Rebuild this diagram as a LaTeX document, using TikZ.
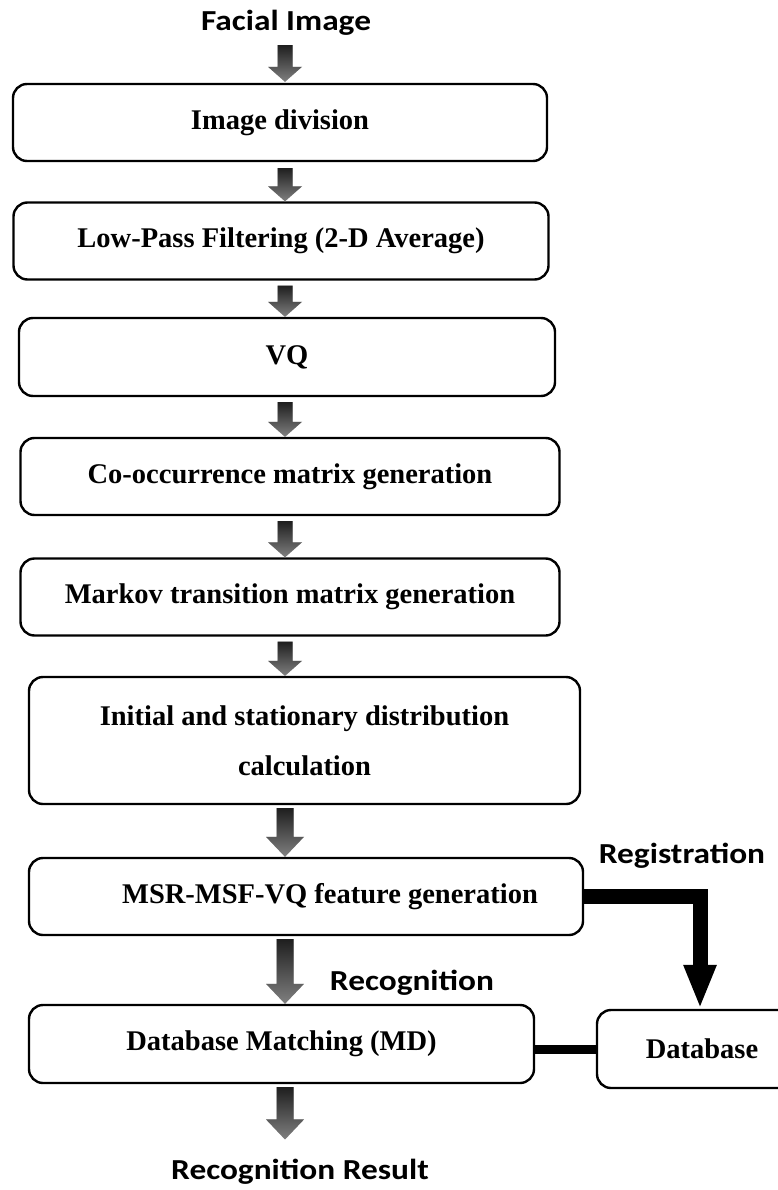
\documentclass[tikz,border=0pt]{standalone}
\usepackage{fontspec}
\setmainfont{Liberation Serif}
\newfontfamily\lblfont[FakeStretch=1.15]{Carlito}
\usetikzlibrary{calc,arrows.meta}
\tikzset{
  box/.style={draw, line width=2.4pt, rounded corners=14pt, align=center,
    font=\fontsize{28.5}{34}\selectfont\bfseries, inner sep=0pt},
  lbl/.style={font=\lblfont\fontsize{29}{34}\selectfont\bfseries, inner sep=0pt, anchor=base},
  ashadow/.style={fill=black!28, xshift=2.5pt, yshift=-1.5pt},
  abody/.style={top color=black!88, bottom color=black!50, draw=none},
  regline/.style={line width=15pt, -{Triangle[width=30pt,length=44pt]}},
  dbline/.style={line width=9pt},
}
% #1 from node, #2 to node, #3 start gap, #4 end gap, #5 half shaft, #6 half head, #7 head length
\newcommand{\barrow}[7]{%
  \foreach \sty in {ashadow,abody}{
    \path[\sty] let \p1=(col), \p2=(#1.south), \p3=(#2.north) in
      (\x1-#5,\y2-#3) -- (\x1+#5,\y2-#3) -- (\x1+#5,\y3+#4+#7) -- (\x1+#6,\y3+#4+#7)
      -- (\x1,\y3+#4) -- (\x1-#6,\y3+#4+#7) -- (\x1-#5,\y3+#4+#7) -- cycle;
  }}
\begin{document}
\begin{tikzpicture}[x=1pt,y=-1pt]
\fill[white] (0,0) rectangle (777,1190);
\useasboundingbox (0,0) rectangle (777,1190);
\coordinate (col) at (285,0);

\node[lbl] (fi) at (286,31) {Facial Image};
\node[box, minimum width=534pt, minimum height=77pt] (b1) at (280,122.5) {Image division};
\node[box, minimum width=535pt, minimum height=77pt] (b2) at (281,241) {Low-Pass Filtering (2-D Average)};
\node[box, minimum width=536pt, minimum height=78pt] (b3) at (287,357) {VQ};
\node[box, minimum width=539pt, minimum height=77pt] (b4) at (290,476.5) {Co-occurrence matrix generation};
\node[box, minimum width=539pt, minimum height=77pt] (b5) at (290,597) {Markov transition matrix generation};
\node[box, minimum width=551pt, minimum height=127pt] (b6) at (304.5,740.5) {Initial and stationary distribution\\[16pt]calculation};
\node[box, minimum width=554pt, minimum height=77pt] (b7) at (306,896.5) {\hspace*{48pt}MSR-MSF-VQ feature generation};
\node[box, minimum width=260pt, minimum height=78pt] (db) at (727,1049) {Database\hspace*{50pt}};
\node[box, minimum width=505pt, minimum height=78pt] (b8) at (281.5,1044) {Database Matching (MD)};
\node[lbl] (rec) at (412,990) {Recognition};
\node[lbl] (reg) at (682,863) {Registration};
\node[lbl] (res) at (300,1179) {Recognition Result};

\barrow{fi}{b1}{9pt}{1pt}{7.5pt}{17pt}{15pt}
\barrow{b1}{b2}{6pt}{0pt}{7.5pt}{17pt}{15pt}
\barrow{b2}{b3}{5pt}{0pt}{7.5pt}{17pt}{15pt}
\barrow{b3}{b4}{5pt}{0pt}{7.5pt}{17pt}{15pt}
\barrow{b4}{b5}{5pt}{0pt}{7.5pt}{17pt}{15pt}
\barrow{b5}{b6}{5pt}{0pt}{7.5pt}{17pt}{15pt}
\barrow{b6}{b7}{3pt}{0pt}{8.5pt}{19pt}{20pt}
\barrow{b7}{b8}{3pt}{0pt}{8.5pt}{19pt}{20pt}
\barrow{b8}{res}{3pt}{19pt}{8.5pt}{19pt}{20pt}

\draw[regline] (b7.east) -| ([xshift=-27pt]db.north);
\draw[dbline] (db.west) -- (db.west -| b8.east);
\end{tikzpicture}
\end{document}
